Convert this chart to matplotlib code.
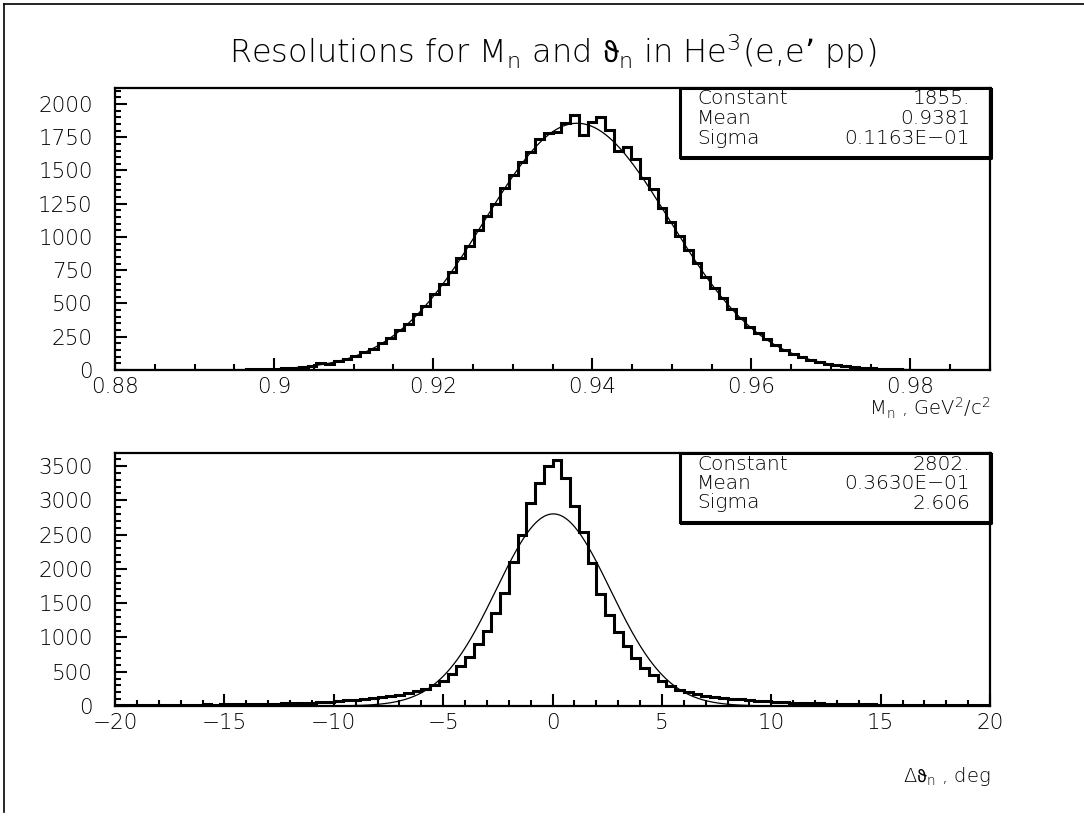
import numpy as np
import matplotlib
matplotlib.use("Agg")
import matplotlib.pyplot as plt
from matplotlib.lines import Line2D
from matplotlib.patches import Rectangle

# ---- top panel: neutron missing mass, 100 bins on [0.88, 0.99]
mass_range = (0.88, 0.99)
mass_counts = [
    0, 0, 0, 1, 0, 0, 1, 0, 1, 1,
    1, 2, 1, 3, 3, 5, 4, 8, 10, 12,
    17, 22, 30, 52, 48, 64, 82, 108, 133, 160,
    205, 240, 298, 345, 420, 480, 570, 650, 735, 845,
    930, 1050, 1160, 1250, 1370, 1465, 1560, 1640, 1735, 1780,
    1790, 1860, 1915, 1765, 1865, 1900, 1805, 1650, 1680, 1590,
    1445, 1360, 1220, 1110, 1010, 900, 805, 700, 615, 540,
    455, 390, 325, 275, 230, 185, 150, 120, 98, 75,
    60, 47, 36, 28, 21, 15, 12, 8, 6, 5,
    3, 2, 2, 1, 1, 0, 0, 1, 0, 0,
]
mass_fit = {"Constant": 1855.0, "Mean": 0.9381, "Sigma": 0.1163e-01}
mass_fit_text = ["1855.", "0.9381", "0.1163E\u221201"]

# ---- bottom panel: neutron angle difference, 100 bins on [-20, 20]
theta_range = (-20.0, 20.0)
theta_counts = [
    12, 14, 13, 15, 16, 15, 18, 17, 20, 19,
    22, 21, 24, 26, 25, 29, 31, 33, 36, 38,
    42, 46, 50, 55, 60, 78, 82, 90, 100, 112,
    125, 140, 160, 185, 215, 250, 300, 370, 460, 580,
    720, 900, 1100, 1350, 1645, 2097, 2501, 2957, 3254, 3507,
    3594, 3322, 2914, 2544, 2083, 1636, 1330, 1080, 880, 700,
    560, 450, 360, 290, 240, 200, 175, 150, 132, 118,
    105, 95, 85, 77, 70, 62, 56, 50, 46, 42,
    38, 35, 32, 29, 27, 25, 23, 21, 19, 18,
    16, 15, 14, 13, 12, 11, 10, 10, 9, 8,
]
theta_fit = {"Constant": 2802.0, "Mean": 0.3630e-01, "Sigma": 2.606}
theta_fit_text = ["2802.", "0.3630E\u221201", "2.606"]

mass_xticks = [0.88, 0.90, 0.92, 0.94, 0.96, 0.98]
mass_xticklabels = ["0.88", "0.9", "0.92", "0.94", "0.96", "0.98"]
mass_yticks = [0, 250, 500, 750, 1000, 1250, 1500, 1750, 2000]
theta_xticks = [-20, -15, -10, -5, 0, 5, 10, 15, 20]
theta_xticklabels = ["\u221220", "\u221215", "\u221210", "\u22125", "0", "5", "10", "15", "20"]
theta_yticks = [0, 500, 1000, 1500, 2000, 2500, 3000, 3500]

plt.rcParams["font.family"] = ["DejaVu Sans"]
plt.rcParams["font.weight"] = "light"
plt.rcParams["mathtext.default"] = "regular"
plt.rcParams["mathtext.fontset"] = "dejavusans"

THETA = r"$\mathrm{\vartheta}$"

W, H = 1084, 819
fig = plt.figure(figsize=(W / 100, H / 100), dpi=100)


def fx(px):
    return px / W


def fy(py):
    return 1.0 - py / H


def gauss(x, p):
    return p["Constant"] * np.exp(-0.5 * ((x - p["Mean"]) / p["Sigma"]) ** 2)


def style_axes(ax, xlim, ylim, xticks, xlabels, yticks, xminor, yminor):
    ax.set_xlim(*xlim)
    ax.set_ylim(*ylim)
    ax.set_xticks(xticks)
    ax.set_xticklabels(xlabels)
    ax.set_yticks(yticks)
    ax.set_xticks(np.arange(xlim[0], xlim[1] + 1e-9, xminor), minor=True)
    ax.set_yticks(np.arange(0, ylim[1], yminor), minor=True)
    for s in ax.spines.values():
        s.set_linewidth(1.6)
    ax.tick_params(which="both", direction="in", top=False, right=False,
                   width=1.5, labelsize=15.5)
    ax.tick_params(which="major", length=8.5)
    ax.tick_params(which="minor", length=4.3)
    ax.tick_params(axis="x", pad=5)
    ax.tick_params(axis="y", pad=16)


def stat_box(top_px, names, values):
    left, right, height = 680, 990, 69
    rect = Rectangle((fx(left), fy(top_px + height)), fx(right) - fx(left),
                     height / H, transform=fig.transFigure, fill=False,
                     lw=2.2, ec="black", zorder=5)
    fig.patches.append(rect)
    # heavier right and bottom edges
    fig.add_artist(Line2D([fx(left + 1), fx(right + 1), fx(right + 1)],
                          [fy(top_px + height + 1), fy(top_px + height + 1),
                           fy(top_px + 1)],
                          transform=fig.transFigure, color="black", lw=2.2))
    for k, (n, v) in enumerate(zip(names, values)):
        yy = fy(top_px + 11 + 19.5 * k)
        fig.text(fx(left + 17), yy, n, ha="left", va="center", fontsize=14.5)
        fig.text(fx(right - 20), yy, v, ha="right", va="center", fontsize=14.5)


# top panel
ax1 = fig.add_axes([fx(115), fy(370), 875 / W, (370 - 88) / H])
edges1 = np.linspace(mass_range[0], mass_range[1], len(mass_counts) + 1)
ax1.stairs(mass_counts, edges1, color="black", lw=2.2)
xf1 = np.linspace(mass_range[0], mass_range[1], 600)
ax1.plot(xf1, gauss(xf1, mass_fit), color="black", lw=0.9)
style_axes(ax1, mass_range, (0, 2120), mass_xticks, mass_xticklabels,
           mass_yticks, 0.005, 50)

# bottom panel
ax2 = fig.add_axes([fx(115), fy(706), 875 / W, (706 - 453) / H])
edges2 = np.linspace(theta_range[0], theta_range[1], len(theta_counts) + 1)
ax2.stairs(theta_counts, edges2, color="black", lw=2.2)
xf2 = np.linspace(theta_range[0], theta_range[1], 800)
ax2.plot(xf2, gauss(xf2, theta_fit), color="black", lw=0.9)
style_axes(ax2, theta_range, (0, 3690), theta_xticks, theta_xticklabels,
           theta_yticks, 1, 100)

names = ["Constant", "Mean", "Sigma"]
stat_box(88, names, mass_fit_text)
stat_box(453, names, theta_fit_text)

# axis titles, right-aligned under each panel
fig.text(fx(990), fy(408), "M$_n$ , GeV$^2$/c$^2$", ha="right", va="center",
         fontsize=14)
fig.text(fx(990), fy(776), "\u0394" + THETA + "$_n$ , deg", ha="right",
         va="center", fontsize=14)

# main title
fig.text(fx(553), fy(52),
         "Resolutions for M$_n$ and " + THETA + "$_n$ in He$^3$(e,e\u2019 pp)",
         ha="center", va="center", fontsize=23)

# page frame
fig.add_artist(Line2D([fx(4), fx(4)], [fy(4), fy(812)], color="black",
                      lw=1.2, transform=fig.transFigure))
fig.add_artist(Line2D([fx(4), fx(1084)], [fy(4), fy(4)], color="black",
                      lw=1.2, transform=fig.transFigure))

fig.savefig("out.png", dpi=100, facecolor="white")
